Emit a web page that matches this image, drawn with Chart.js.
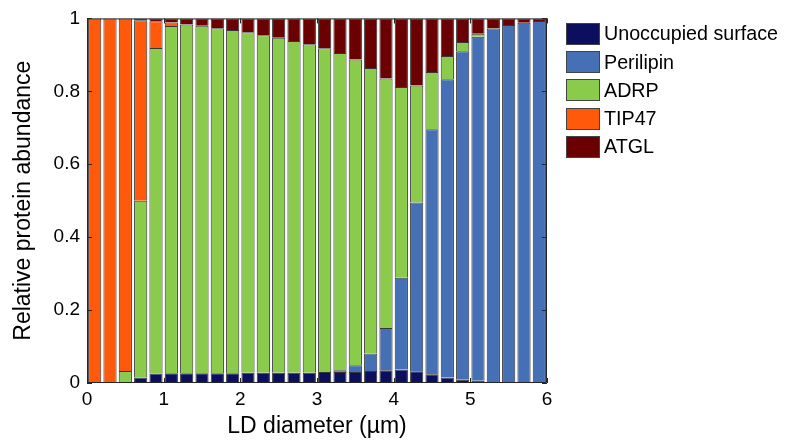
<!DOCTYPE html>
<html>
<head>
<meta charset="utf-8">
<script src="https://cdn.jsdelivr.net/npm/chart.js@4.4.1/dist/chart.umd.min.js"></script>
<style>
  html, body { margin: 0; padding: 0; background: #fff; }
  #wrap { position: relative; width: 786px; height: 441px; }
  #legend { position: absolute; left: 566px; top: 23px; font-family: "Liberation Sans", Arial, sans-serif; font-size: 19.7px; color: #000; }
  .item { display: flex; align-items: center; height: 21.5px; margin-bottom: 6.8px; }
  .sw { width: 32px; height: 20px; border: 1px solid #444; margin-right: 4px; box-sizing: content-box; }
</style>
</head>
<body>
<div id="wrap">
  <canvas id="c" width="786" height="441"></canvas>
  <div id="legend"></div>
</div>
<script>
// LD diameter bins (µm), bar centres
const diameters = [0.1, 0.3, 0.5, 0.7, 0.9, 1.1, 1.3, 1.5, 1.7, 1.9,
                   2.1, 2.3, 2.5, 2.7, 2.9, 3.1, 3.3, 3.5, 3.7, 3.9,
                   4.1, 4.3, 4.5, 4.7, 4.9, 5.1, 5.3, 5.5, 5.7, 5.9];

// Relative protein abundance per bin (stacked from the bottom)
const unoccupied = [0, 0, 0, 0.015, 0.026, 0.027, 0.027, 0.027, 0.027, 0.027,
                    0.028, 0.028, 0.028, 0.028, 0.028, 0.030, 0.030, 0.030, 0.033, 0.035,
                    0.037, 0.032, 0.024, 0.015, 0.009, 0.006, 0.003, 0.001, 0, 0];
const perilipin  = [0, 0, 0, 0, 0, 0, 0, 0, 0, 0,
                    0, 0, 0, 0, 0, 0, 0.005, 0.019, 0.048, 0.116,
                    0.252, 0.463, 0.672, 0.818, 0.901, 0.944, 0.969, 0.981, 0.988, 0.993];
const adrp       = [0, 0, 0.033, 0.485, 0.893, 0.952, 0.956, 0.953, 0.946, 0.941,
                    0.934, 0.926, 0.919, 0.910, 0.901, 0.888, 0.870, 0.838, 0.783, 0.684,
                    0.523, 0.321, 0.157, 0.064, 0.025, 0.008, 0, 0, 0, 0];
const tip47      = [1, 1, 0.967, 0.495, 0.073, 0.010, 0, 0, 0, 0,
                    0, 0, 0, 0, 0, 0, 0, 0, 0, 0,
                    0, 0, 0, 0, 0, 0, 0, 0, 0, 0];
const atgl       = [0, 0, 0, 0.005, 0.008, 0.011, 0.017, 0.020, 0.027, 0.032,
                    0.038, 0.046, 0.053, 0.062, 0.071, 0.082, 0.095, 0.113, 0.136, 0.165,
                    0.188, 0.184, 0.147, 0.103, 0.065, 0.042, 0.028, 0.018, 0.012, 0.007];

const seriesNames = ['Unoccupied surface', 'Perilipin', 'ADRP', 'TIP47', 'ATGL'];
const seriesValues = [unoccupied, perilipin, adrp, tip47, atgl];
const seriesColors = ['#0b0f5e', '#4570b6', '#8bcb4c', '#ff5a0c', '#6a0000'];

const xTicks = [0, 1, 2, 3, 4, 5, 6];
const yTicks = [0, 0.2, 0.4, 0.6, 0.8, 1];

const FONT = '"Liberation Sans", Arial, Helvetica, sans-serif';
const AXIS = '#262626';

const datasets = seriesNames.map((name, k) => ({
  label: name,
  data: diameters.map((d, i) => ({ x: d, y: seriesValues[k][i] })),
  backgroundColor: seriesColors[k],
  borderColor: 'rgba(20,20,20,0.85)',
  borderWidth: 1,
  borderSkipped: 'start',
  categoryPercentage: 1,
  barPercentage: 0.86
}));

// Box around the plot and inward-pointing tick marks
const boxTicks = {
  id: 'boxTicks',
  afterDraw(chart) {
    const { ctx, chartArea: a, scales } = chart;
    ctx.save();
    ctx.strokeStyle = AXIS;
    ctx.lineWidth = 1;
    ctx.beginPath();
    ctx.rect(a.left + 0.5, a.top + 0.5, a.right - a.left - 1, a.bottom - a.top - 1);
    ctx.stroke();
    const len = 5;
    ctx.beginPath();
    xTicks.forEach(v => {
      const px = Math.round(scales.x.getPixelForValue(v)) + 0.5;
      ctx.moveTo(px, a.bottom); ctx.lineTo(px, a.bottom - len);
      ctx.moveTo(px, a.top); ctx.lineTo(px, a.top + len);
    });
    yTicks.forEach(v => {
      const py = Math.round(scales.y.getPixelForValue(v)) + 0.5;
      ctx.moveTo(a.left, py); ctx.lineTo(a.left + len, py);
      ctx.moveTo(a.right, py); ctx.lineTo(a.right - len, py);
    });
    ctx.stroke();
    ctx.restore();
  }
};

new Chart(document.getElementById('c'), {
  type: 'bar',
  data: { datasets },
  options: {
    responsive: false,
    animation: false,
    layout: { padding: { left: 0, right: 239, top: 18, bottom: 0 } },
    plugins: { legend: { display: false }, tooltip: { enabled: false } },
    scales: {
      x: {
        type: 'linear',
        stacked: true,
        min: 0, max: 6,
        offset: false,
        grid: { display: false, offset: false, drawTicks: false },
        border: { display: false },
        afterBuildTicks: s => { s.ticks = xTicks.map(v => ({ value: v })); },
        afterFit: s => { s.height = 58; },
        ticks: { color: '#000', font: { family: FONT, size: 19 }, padding: 5, callback: v => String(v) },
        title: { display: true, text: 'LD diameter (µm)', color: '#000', font: { family: FONT, size: 23 }, padding: { top: 3, bottom: 1 } }
      },
      y: {
        stacked: true,
        min: 0, max: 1,
        grid: { display: false, drawTicks: false },
        border: { display: false },
        afterBuildTicks: s => { s.ticks = yTicks.map(v => ({ value: v })); },
        afterFit: s => { s.width = 87; },
        ticks: { color: '#000', font: { family: FONT, size: 19 }, padding: 7, callback: v => String(Math.round(v * 10) / 10) },
        title: { display: true, text: 'Relative protein abundance', color: '#000', font: { family: FONT, size: 23 }, padding: { top: 10, bottom: 4 } }
      }
    }
  },
  plugins: [boxTicks]
});

// Legend built from the same series arrays
const legend = document.getElementById('legend');
seriesNames.forEach((name, k) => {
  const row = document.createElement('div');
  row.className = 'item';
  const sw = document.createElement('span');
  sw.className = 'sw';
  sw.style.background = seriesColors[k];
  const label = document.createElement('span');
  label.textContent = name;
  row.appendChild(sw);
  row.appendChild(label);
  legend.appendChild(row);
});
</script>
</body>
</html>
